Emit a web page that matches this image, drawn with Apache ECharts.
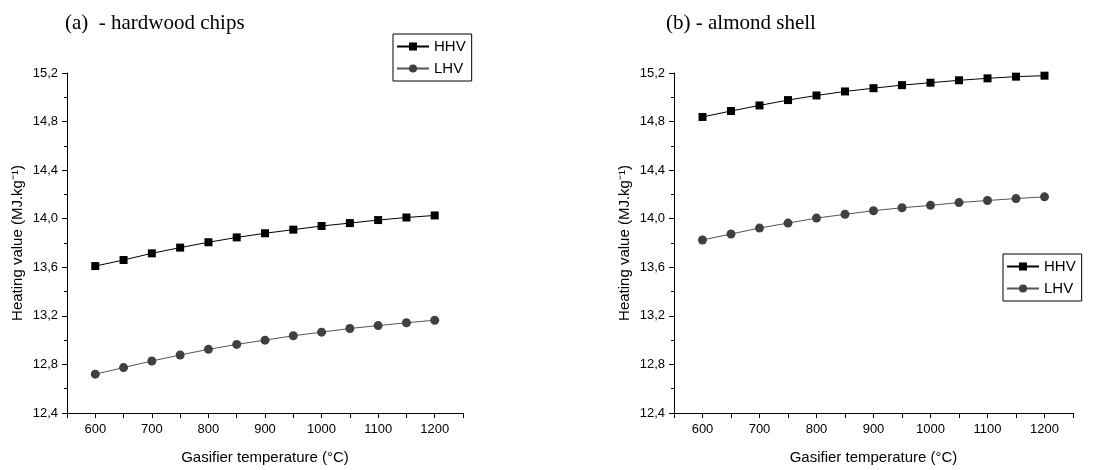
<!DOCTYPE html>
<html>
<head>
<meta charset="utf-8">
<script src="https://cdn.jsdelivr.net/npm/echarts@6/dist/echarts.min.js"></script>
<style>html,body{margin:0;padding:0;background:#fff}#c{width:1111px;height:470px}</style>
</head>
<body>
<div id="c"></div>
<script>
const temps = [600, 650, 700, 750, 800, 850, 900, 950, 1000, 1050, 1100, 1150, 1200];
const hhvA = [13.61, 13.66, 13.715, 13.762, 13.806, 13.846, 13.88, 13.91, 13.94, 13.964, 13.989, 14.01, 14.027];
const lhvA = [12.72, 12.774, 12.828, 12.878, 12.924, 12.965, 13.0, 13.036, 13.066, 13.096, 13.12, 13.143, 13.164];
const hhvB = [14.838, 14.887, 14.933, 14.977, 15.015, 15.048, 15.075, 15.1, 15.12, 15.14, 15.156, 15.17, 15.178];
const lhvB = [13.825, 13.874, 13.923, 13.964, 14.005, 14.036, 14.066, 14.09, 14.11, 14.133, 14.15, 14.166, 14.18];
const titles = ['(a)  - hardwood chips', '(b) - almond shell'];
const seriesNames = ['HHV', 'LHV'];

const pair = (xs, ys) => xs.map((x, i) => [x, ys[i]]);
const font = 'Liberation Sans, Arial, sans-serif';

function xAxis(gi) {
  return {
    type: 'value', gridIndex: gi, min: 550, max: 1250, interval: 50,
    name: 'Gasifier temperature (°C)', nameLocation: 'middle', nameGap: 37,
    nameTextStyle: {fontFamily: font, fontSize: 15, color: '#000'},
    axisLine: {show: true, lineStyle: {color: '#000', width: 1}},
    axisTick: {show: true, length: 5, lineStyle: {color: '#000'}},
    axisLabel: {fontFamily: font, fontSize: 13, color: '#000', margin: 10,
      formatter: v => (Math.round(v) % 100 === 0 ? String(Math.round(v)) : '')},
    splitLine: {show: false}
  };
}
function yAxis(gi) {
  return {
    type: 'value', gridIndex: gi, min: 12.4, max: 15.2, interval: 0.4,
    name: 'Heating value (MJ.kg⁻¹)', nameLocation: 'middle', nameGap: 42, nameRotate: 90,
    nameTextStyle: {fontFamily: font, fontSize: 15, color: '#000'},
    axisLine: {show: true, lineStyle: {color: '#000', width: 1}},
    axisTick: {show: true, length: 5, lineStyle: {color: '#000'}},
    minorTick: {show: true, splitNumber: 2, length: 3, lineStyle: {color: '#000'}},
    axisLabel: {fontFamily: font, fontSize: 13, color: '#000', margin: 9,
      formatter: v => v.toFixed(1).replace('.', ',')},
    splitLine: {show: false}
  };
}
function line(name, gi, data, color, lineColor, symbol, size) {
  return {
    type: 'line', name: name, xAxisIndex: gi, yAxisIndex: gi, data: data,
    symbol: symbol, symbolSize: size, showSymbol: true,
    itemStyle: {color: color}, lineStyle: {color: lineColor, width: 1},
    animation: false
  };
}
function legend(left, top) {
  return {
    left: left, top: top, orient: 'vertical', data: seriesNames,
    borderColor: '#000', borderWidth: 1, borderRadius: 0, padding: [5, 6, 5, 3],
    itemWidth: 32, itemHeight: 10, itemGap: 7,
    textStyle: {fontFamily: font, fontSize: 15, color: '#000'}
  };
}

const chart = echarts.init(document.getElementById('c'), null, {renderer: 'canvas'});
chart.setOption({
  backgroundColor: '#fff',
  animation: false,
  title: [
    {text: titles[0], left: 60, top: 8, textStyle: {fontFamily: 'Liberation Serif, Times New Roman, serif', fontSize: 21, fontWeight: 'normal', color: '#000'}},
    {text: titles[1], left: 661, top: 8, textStyle: {fontFamily: 'Liberation Serif, Times New Roman, serif', fontSize: 21, fontWeight: 'normal', color: '#000'}}
  ],
  legend: [legend(393, 34), legend(1003, 254)],
  grid: [
    {left: 67, top: 73, width: 396, height: 342},
    {left: 674, top: 73, width: 399, height: 342}
  ],
  xAxis: [xAxis(0), xAxis(1)],
  yAxis: [yAxis(0), yAxis(1)],
  series: [
    line(seriesNames[0], 0, pair(temps, hhvA), '#000', '#000', 'rect', 8),
    line(seriesNames[1], 0, pair(temps, lhvA), '#404040', '#555', 'circle', 9),
    line(seriesNames[0], 1, pair(temps, hhvB), '#000', '#000', 'rect', 8),
    line(seriesNames[1], 1, pair(temps, lhvB), '#404040', '#555', 'circle', 9)
  ]
});
</script>
</body>
</html>
